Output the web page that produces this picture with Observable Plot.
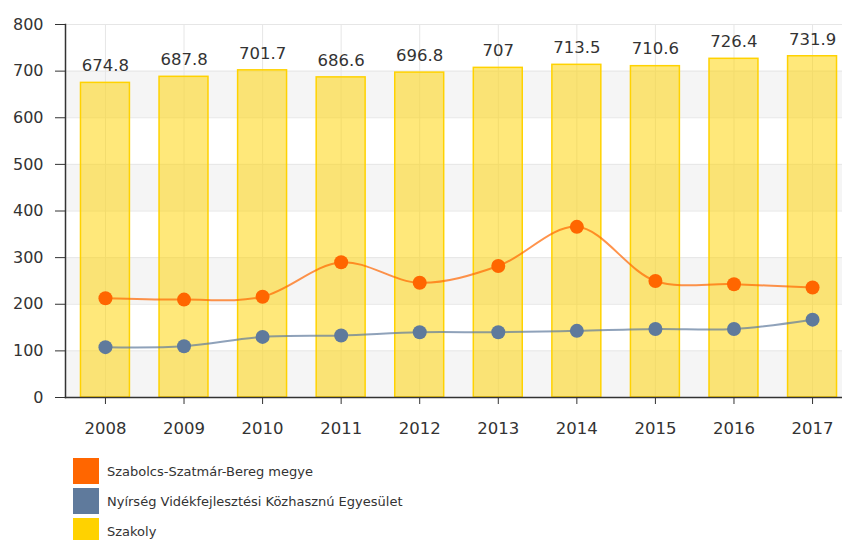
<!DOCTYPE html>
<html>
<head>
<meta charset="utf-8">
<script src="https://cdn.jsdelivr.net/npm/d3@7"></script>
<script src="https://cdn.jsdelivr.net/npm/@observablehq/plot@0.6"></script>
<style>
  html, body { margin: 0; padding: 0; background: #fff; overflow: hidden; }
  #chart svg { display: block; overflow: hidden; }
  .legend { margin-top: 13px; font-family: "DejaVu Sans", Verdana, sans-serif; font-size: 13px; color: #333; }
  .legend .row { display: flex; align-items: center; height: 26px; margin-bottom: 4px; }
  .legend .sw { width: 26px; height: 26px; margin-left: 73px; margin-right: 8px; }
</style>
</head>
<body>
<div id="chart"></div>
<div class="legend" id="legend"></div>
<script>
const years = ["2008","2009","2010","2011","2012","2013","2014","2015","2016","2017"];
const szakoly = [674.8, 687.8, 701.7, 686.6, 696.8, 707, 713.5, 710.6, 726.4, 731.9];
const szakolyLabels = ["674.8","687.8","701.7","686.6","696.8","707","713.5","710.6","726.4","731.9"];
const megye = [213, 210, 216, 290, 246, 282, 366, 250, 243, 236];
const egyesulet = [108, 110, 130, 133, 140, 140, 143, 147, 147, 167];
const yTicks = [0, 100, 200, 300, 400, 500, 600, 700, 800];
const stripes = [[0, 100], [200, 300], [400, 500], [600, 700]];

const seriesNames = ["Szabolcs-Szatmár-Bereg megye", "Nyírség Vidékfejlesztési Közhasznú Egyesület", "Szakoly"];
const seriesColors = ["#FF6600", "#5F7A9C", "#FFD200"];

const bars = years.map((y, i) => ({year: y, value: szakoly[i], label: szakolyLabels[i]}));
const l1 = years.map((y, i) => ({year: y, value: megye[i]}));
const l2 = years.map((y, i) => ({year: y, value: egyesulet[i]}));
const stripeData = stripes.map(([a, b]) => ({y1: a, y2: b}));

const plot = Plot.plot({
  width: 842,
  height: 445,
  marginLeft: 65,
  marginRight: -10,
  marginTop: 24,
  marginBottom: 48,
  style: {fontFamily: "DejaVu Sans, Verdana, sans-serif", color: "#333", background: "#fff"},
  x: {type: "band", domain: years, paddingInner: 0.377, paddingOuter: 0.197, round: false},
  y: {domain: [0, 800]},
  marks: [
    Plot.rectY(stripeData, {y1: "y1", y2: "y2", fill: "#f5f5f5"}),
    Plot.gridY(yTicks, {stroke: "#e6e6e6", strokeOpacity: 1}),
    Plot.gridX(years, {stroke: "#e6e6e6", strokeOpacity: 1}),
    Plot.barY(bars, {x: "year", y: "value", fill: "#FFD200", fillOpacity: 0.52, stroke: "#FFD200", strokeWidth: 1.5}),
    Plot.text(bars, {x: "year", y: "value", text: "label", dy: -17, fontSize: 16.5, fill: "#333"}),
    Plot.line(l1, {x: "year", y: "value", stroke: seriesColors[0], strokeWidth: 2, strokeOpacity: 0.7, curve: "catmull-rom"}),
    Plot.dot(l1, {x: "year", y: "value", r: 7, fill: seriesColors[0]}),
    Plot.line(l2, {x: "year", y: "value", stroke: seriesColors[1], strokeWidth: 2, strokeOpacity: 0.7, curve: "catmull-rom"}),
    Plot.dot(l2, {x: "year", y: "value", r: 7, fill: seriesColors[1]}),
    Plot.axisY({ticks: yTicks, tickSize: 10, tickPadding: 12, fontSize: 16, label: null, stroke: "#333"}),
    Plot.axisX({tickSize: 7, tickPadding: 18, fontSize: 16.5, label: null, stroke: "#333"}),
    Plot.frame({anchor: "left", stroke: "#333", strokeWidth: 1.5}),
    Plot.frame({anchor: "bottom", stroke: "#333", strokeWidth: 1.5})
  ]
});
document.getElementById("chart").appendChild(plot);

const legend = document.getElementById("legend");
seriesNames.forEach((name, i) => {
  const row = document.createElement("div");
  row.className = "row";
  const sw = document.createElement("div");
  sw.className = "sw";
  sw.style.background = seriesColors[i];
  const t = document.createElement("span");
  t.textContent = name;
  row.appendChild(sw);
  row.appendChild(t);
  legend.appendChild(row);
});
</script>
</body>
</html>
